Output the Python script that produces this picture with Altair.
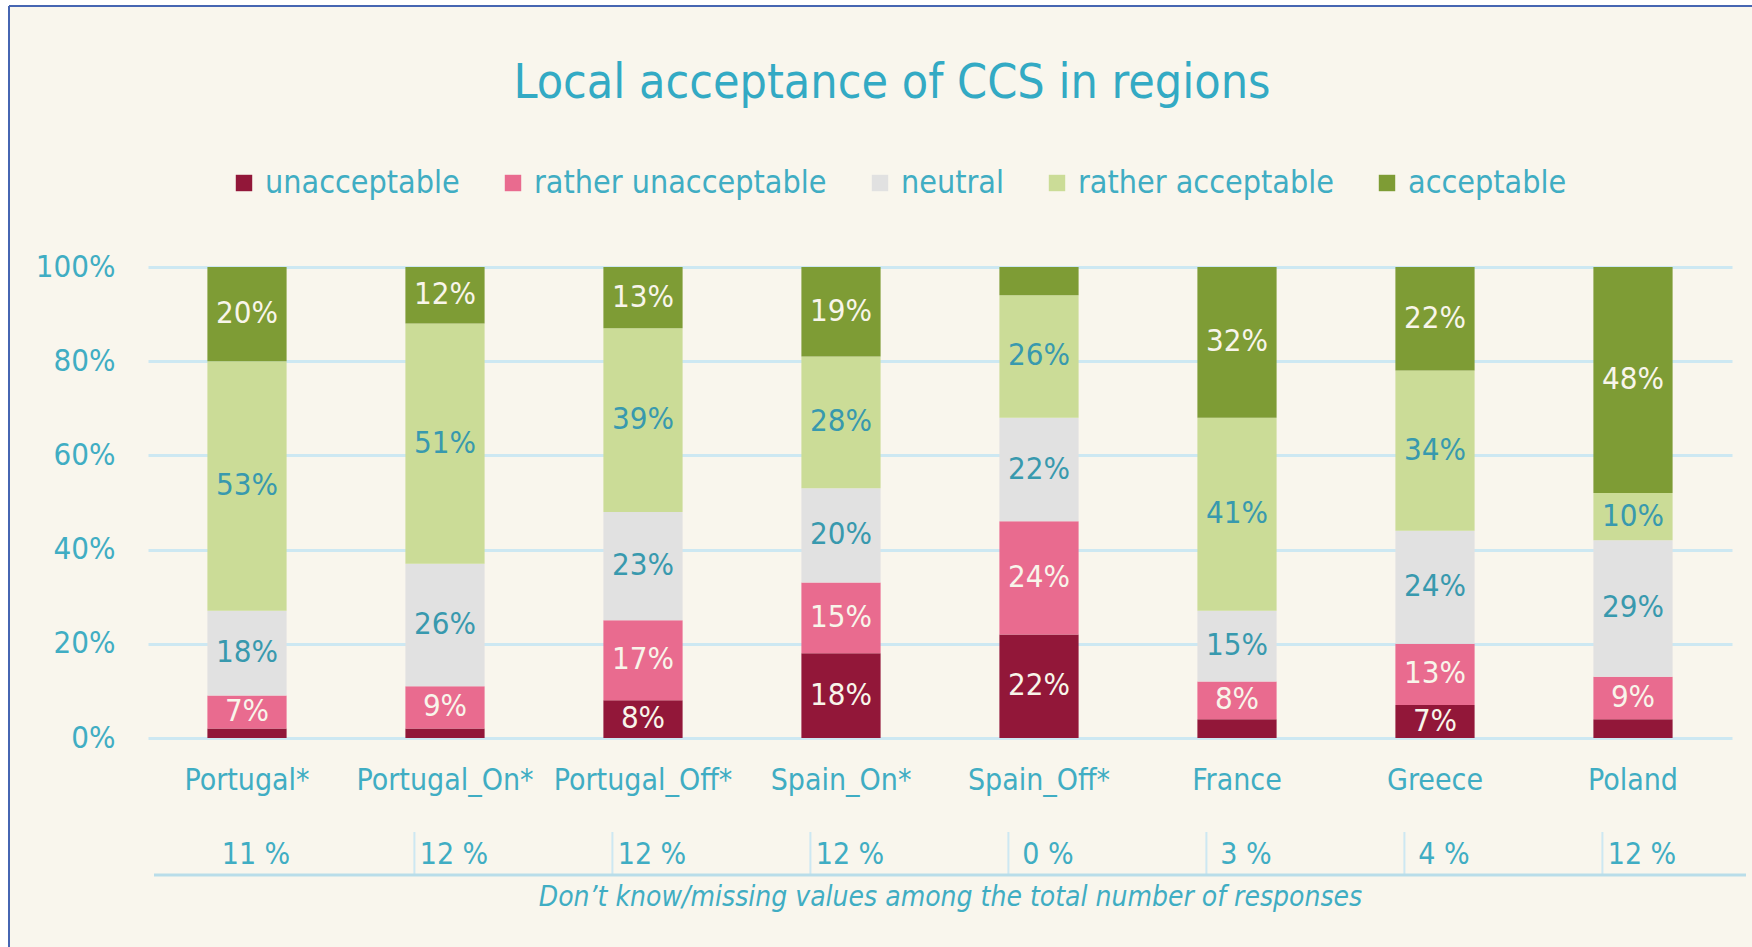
import altair as alt
import pandas as pd

countries = ["Portugal*", "Portugal_On*", "Portugal_Off*", "Spain_On*",
             "Spain_Off*", "France", "Greece", "Poland"]
categories = ["unacceptable", "rather unacceptable", "neutral",
              "rather acceptable", "acceptable"]
unacceptable = [2, 2, 8, 18, 22, 4, 7, 4]
rather_unacceptable = [7, 9, 17, 15, 24, 8, 13, 9]
neutral = [18, 26, 23, 20, 22, 15, 24, 29]
rather_acceptable = [53, 51, 39, 28, 26, 41, 34, 10]
acceptable = [20, 12, 13, 19, 6, 32, 22, 48]
missing = ["11 %", "12 %", "12 %", "12 %", "0 %", "3 %", "4 %", "12 %"]
y_ticks = [0, 20, 40, 60, 80, 100]
title_text = "Local acceptance of CCS in regions"
note_text = "Don\u2019t know/missing values among the total number of responses"

series = [unacceptable, rather_unacceptable, neutral, rather_acceptable, acceptable]
rows = []
for ci, (cat, vals) in enumerate(zip(categories, series)):
    for c, v in zip(countries, vals):
        rows.append({"country": c, "category": cat, "value": v, "ord": ci})
df = pd.DataFrame(rows)
miss_df = pd.DataFrame({"country": countries, "missing": missing})
sep_df = pd.DataFrame({"country": countries[1:]})
one = pd.DataFrame({"k": [0]})
title_df = pd.DataFrame({"t": [title_text]})

FONT = "Liberation Sans Narrow, DejaVu Sans Condensed, Open Sans, sans-serif"
TEAL = "#40adc3"
LABEL_TEAL = "#3899ae"
TITLE_TEAL = "#33aac4"
CREAM = "#f9f6ed"
LIGHT_TXT = "#f8f5ea"
GRID = "#cde8f2"
BORDER = "#4666b2"
colors = ["#921739", "#e96b8f", "#e1e1e1", "#cbdc97", "#7e9c35"]

W, H = 1584, 471

xscale = alt.Scale(domain=countries, paddingInner=0.6, paddingOuter=0.3)
xaxis = alt.Axis(
    title=note_text, titleFont=FONT, titleFontSize=28, titleFontStyle="italic",
    titleFontWeight="normal", titleColor=TEAL, titleX=802, titleY=159,
    titleAlign="center", titleBaseline="middle", titleAnchor="start",
    labelAngle=0, labelFont=FONT, labelFontSize=30, labelColor=TEAL,
    labelPadding=27, domain=False, ticks=False, grid=False,
)
yscale = alt.Scale(domain=[0, 100])
yaxis = alt.Axis(
    values=y_ticks, labelExpr="datum.value + '%'", title=None,
    domain=False, ticks=False, labelPadding=33, labelFont=FONT,
    labelFontSize=31, labelColor=TEAL, grid=True, gridColor=GRID, gridWidth=3,
)


def xenc(**kw):
    return alt.X("country:N", sort=countries, scale=xscale, axis=xaxis, **kw)


# white margin outside the framed panel, and its blue frame
white_top = alt.Chart(one).mark_rect(fill="white").encode(
    x=alt.value(-148), x2=alt.value(1604), y=alt.value(-267), y2=alt.value(-261)
)
white_left = alt.Chart(one).mark_rect(fill="white").encode(
    x=alt.value(-148), x2=alt.value(-139), y=alt.value(-267), y2=alt.value(680)
)
frame_top = alt.Chart(one).mark_rule(color=BORDER, strokeWidth=2).encode(
    x=alt.value(-139), x2=alt.value(1604), y=alt.value(-261)
)
frame_left = alt.Chart(one).mark_rule(color=BORDER, strokeWidth=2).encode(
    x=alt.value(-139), y=alt.value(-261), y2=alt.value(680)
)

title = alt.Chart(title_df).mark_text(
    font=FONT, fontSize=48, color=TITLE_TEAL, align="center", baseline="alphabetic"
).encode(x=alt.value(744), y=alt.value(-169), text="t:N")

stacked = alt.Chart(df).transform_stack(
    stack="value", groupby=["country"], as_=["y0", "y1"],
    sort=[alt.SortField("ord", order="ascending")],
).transform_calculate(mid="(datum.y0 + datum.y1) / 2", label="datum.value + '%'")

bars = stacked.mark_bar(strokeWidth=0).encode(
    x=xenc(),
    y=alt.Y("y0:Q", scale=yscale, axis=yaxis),
    y2="y1:Q",
    color=alt.Color(
        "category:N",
        scale=alt.Scale(domain=categories, range=colors),
        legend=alt.Legend(
            title=None, orient="none", legendX=80, legendY=-100,
            direction="horizontal", symbolType="square", symbolSize=270,
            symbolStrokeWidth=0, symbolOpacity=1, labelFont=FONT,
            labelFontSize=32, labelColor=TEAL, labelOffset=5, labelLimit=0,
            columnPadding=37, padding=0,
        ),
    ),
)

labels = stacked.transform_filter("datum.value >= 7").mark_text(
    font=FONT, fontSize=31, baseline="middle", align="center"
).encode(
    x=xenc(),
    y=alt.Y("mid:Q", scale=yscale, axis=yaxis),
    text="label:N",
    color=alt.condition(
        "datum.category == 'neutral' || datum.category == 'rather acceptable'",
        alt.value(LABEL_TEAL), alt.value(LIGHT_TXT),
    ),
)

miss_text = alt.Chart(miss_df).mark_text(
    font=FONT, fontSize=30, color=TEAL, baseline="middle", dx=9
).encode(x=xenc(), y=alt.value(588), text="missing:N")

seps = alt.Chart(sep_df).mark_rule(color=GRID, strokeWidth=2, xOffset=9).encode(
    x=xenc(bandPosition=0), y=alt.value(565), y2=alt.value(608)
)

table_line = alt.Chart(one).mark_rule(color="#b9dde9", strokeWidth=3).encode(
    x=alt.value(6), x2=alt.value(1598), y=alt.value(608)
)

chart = alt.layer(
    bars, labels, miss_text, seps, table_line,
    white_top, white_left, frame_top, frame_left, title,
).properties(
    width=W, height=H,
    autosize=alt.AutoSizeParams(type="none"),
    padding={"left": 148, "top": 267, "right": 20, "bottom": 209},
    background=CREAM,
).configure_view(stroke=None)

chart.save("out.html", embed_options={"renderer": "svg", "actions": False})
